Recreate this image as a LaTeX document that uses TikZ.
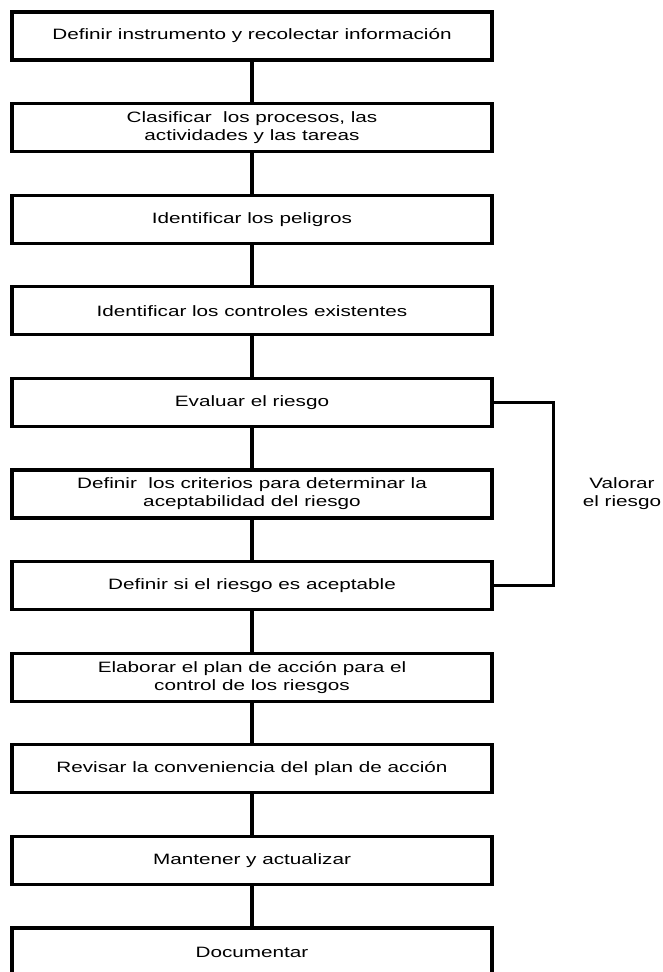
\documentclass[tikz,border=0pt]{standalone}
\usepackage{fontspec}
\newfontfamily\diagfont{Liberation Sans}[FakeStretch=1.38]
\begin{document}
\begin{tikzpicture}[x=0.75pt,y=-0.75pt,
  stepbox/.style={draw=black, line width=2.3pt, fill=white, minimum width=360pt, minimum height=36pt,
    inner sep=0pt, align=center, font=\diagfont\fontsize{11.25pt}{13.5pt}\selectfont},
  link/.style={draw=black, line width=2.3pt},
  sidelabel/.style={align=center, inner sep=0pt, font=\diagfont\fontsize{11.25pt}{13.5pt}\selectfont}]
\useasboundingbox (0,0) rectangle (663,972);
\clip (0,0) rectangle (663,972);
\fill[white] (0,0) rectangle (663,972);
\node[stepbox] (n1) at (252,36) {Definir instrumento y recolectar información};
\node[stepbox] (n2) at (252,127.6) {Clasificar\ \ los procesos, las\\actividades y las tareas};
\node[stepbox] (n3) at (252,219.2) {Identificar los peligros};
\node[stepbox] (n4) at (252,310.8) {Identificar los controles existentes};
\node[stepbox] (n5) at (252,402.4) {Evaluar el riesgo};
\node[stepbox] (n6) at (252,494) {Definir\ \ los criterios para determinar la\\aceptabilidad del riesgo};
\node[stepbox] (n7) at (252,585.6) {Definir si el riesgo es aceptable};
\node[stepbox] (n8) at (252,677.2) {Elaborar el plan de acción para el\\control de los riesgos};
\node[stepbox] (n9) at (252,768.8) {Revisar la conveniencia del plan de acción};
\node[stepbox] (n10) at (252,860.4) {Mantener y actualizar};
\node[stepbox] (n11) at (252,952) {Documentar};
\foreach \a/\b in {n1/n2,n2/n3,n3/n4,n4/n5,n5/n6,n6/n7,n7/n8,n8/n9,n9/n10,n10/n11}
  \draw[link] (\a.south) -- (\b.north);
\draw[link] (n5.east) -- ++(60,0) |- (n7.east);
\node[sidelabel] (val) at (622,494) {Valorar\\el riesgo};
\end{tikzpicture}
\end{document}
